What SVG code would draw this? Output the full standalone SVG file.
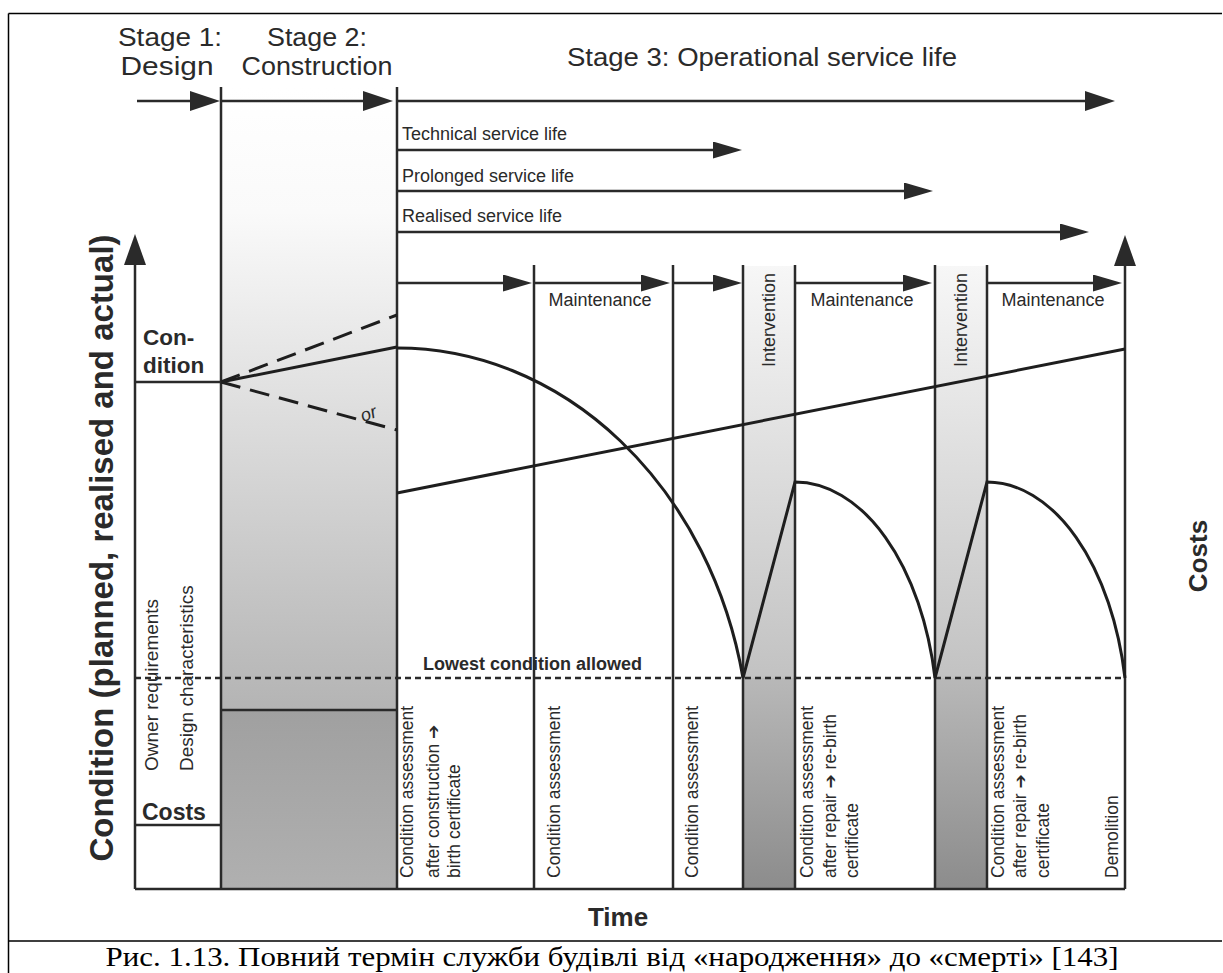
<svg xmlns="http://www.w3.org/2000/svg" width="1223" height="973" viewBox="0 0 1223 973">
<style>
.ln{stroke:#2a2a2a;stroke-width:2.5;fill:none}
.cv{stroke:#1e1e1e;stroke-width:3;fill:none}
.fr{stroke:#000;stroke-width:1.5;fill:none}
.t{font-family:"Liberation Sans",Arial,sans-serif;fill:#2a2a2a}
.st{font-size:26px}
.sm{font-size:18px}
.vt{font-size:17.5px}
.b{font-weight:bold}
.arr{font-family:"DejaVu Sans",sans-serif;font-size:17px;font-weight:bold}
.cap{font-family:"Liberation Serif","Times New Roman",serif;font-size:28px;fill:#000}
</style>
<defs>
<marker id="big" markerUnits="userSpaceOnUse" viewBox="0 0 30 20" markerWidth="30" markerHeight="20" refX="20" refY="10" orient="auto"><path d="M0,0 L30,10 L0,20 z" fill="#2a2a2a"/></marker>
<marker id="mid" markerUnits="userSpaceOnUse" viewBox="0 0 29 17" markerWidth="29" markerHeight="17" refX="19" refY="8.5" orient="auto"><path d="M0,0 L29,8.5 L0,17 z" fill="#2a2a2a"/></marker>
<marker id="ax" markerUnits="userSpaceOnUse" viewBox="0 0 31 22" markerWidth="31" markerHeight="22" refX="21" refY="11" orient="auto"><path d="M0,0 L31,11 L0,22 z" fill="#2a2a2a"/></marker>
<linearGradient id="gConTop" x1="0" y1="0" x2="0" y2="1"><stop offset="0" stop-color="#ffffff"/><stop offset="0.2" stop-color="#fafafa"/><stop offset="1" stop-color="#b4b4b4"/></linearGradient>
<linearGradient id="gConBot" x1="0" y1="0" x2="0" y2="1"><stop offset="0" stop-color="#a0a0a0"/><stop offset="1" stop-color="#b0b0b0"/></linearGradient>
<linearGradient id="gIntTop" x1="0" y1="0" x2="0" y2="1"><stop offset="0" stop-color="#f7f7f7"/><stop offset="1" stop-color="#c2c2c2"/></linearGradient>
<linearGradient id="gIntBot" x1="0" y1="0" x2="0" y2="1"><stop offset="0" stop-color="#b8b8b8"/><stop offset="1" stop-color="#8c8c8c"/></linearGradient>
</defs>
<rect width="1223" height="973" fill="#fff"/>
<g id="frame">
<path class="fr" d="M8.5,13.5 H1222 M8.5,13.5 V973 M8.5,941 H1222"/>
</g>
<g id="bands">
<rect x="221" y="88" width="176" height="622" fill="url(#gConTop)"/>
<rect x="221" y="710" width="176" height="179" fill="url(#gConBot)"/>
<rect x="743" y="266" width="52" height="412" fill="url(#gIntTop)"/>
<rect x="743" y="678" width="52" height="211" fill="url(#gIntBot)"/>
<rect x="935" y="266" width="52" height="412" fill="url(#gIntTop)"/>
<rect x="935" y="678" width="52" height="211" fill="url(#gIntBot)"/>
</g>
<g id="connectors">
<path class="ln" d="M137,101 H210" marker-end="url(#big)"/>
<path class="ln" d="M221,101 H383" marker-end="url(#big)"/>
<path class="ln" d="M397,101 H1105" marker-end="url(#big)"/>
<path class="ln" d="M221,87 V889 M397,87 V889"/>
<path class="ln" d="M397,150 H732" marker-end="url(#mid)"/>
<path class="ln" d="M397,191 H923" marker-end="url(#mid)"/>
<path class="ln" d="M397,232 H1079" marker-end="url(#mid)"/>
<path class="ln" d="M397,283 H522" marker-end="url(#mid)"/>
<path class="ln" d="M534,283 H660" marker-end="url(#mid)"/>
<path class="ln" d="M673,283 H732" marker-end="url(#mid)"/>
<path class="ln" d="M795,283 H922" marker-end="url(#mid)"/>
<path class="ln" d="M987,283 H1112" marker-end="url(#mid)"/>
<path class="ln" d="M534,265 V889 M673,265 V889 M743,265 V889 M795,265 V889 M935,265 V889 M987,265 V889"/>
<path class="ln" d="M135,889 V244" marker-end="url(#ax)"/>
<path class="ln" d="M1125,889 V245" marker-end="url(#ax)"/>
<path class="ln" d="M135,889 H1125"/>
<path class="ln" d="M135,382 H221 M135,825 H221 M221,710 H397"/>
<path class="ln" d="M135,678 H1125" stroke-dasharray="6 4"/>
<path class="cv" d="M221,382 L397,347"/>
<path class="cv" d="M221,382 L397,315 M221,382 L397,430" stroke-width="2.7" stroke-dasharray="20 10"/>
<path class="cv" d="M397,348 A353,412 0 0 1 743,678 L795,482 A143,245 0 0 1 935,678 L987,482 A141,245 0 0 1 1125,678"/>
<path class="cv" d="M397,493 L1125,349"/>
</g>
<g id="stages">
<text class="t st" x="170" y="46" text-anchor="middle" textLength="104" lengthAdjust="spacingAndGlyphs">Stage 1:</text>
<text class="t st" x="167" y="75" text-anchor="middle" textLength="93" lengthAdjust="spacingAndGlyphs">Design</text>
<text class="t st" x="317" y="46" text-anchor="middle" textLength="100" lengthAdjust="spacingAndGlyphs">Stage 2:</text>
<text class="t st" x="317" y="75" text-anchor="middle" textLength="151" lengthAdjust="spacingAndGlyphs">Construction</text>
<text class="t st" x="567" y="66" textLength="390" lengthAdjust="spacingAndGlyphs">Stage 3: Operational service life</text>
</g>
<g id="service-life">
<text class="t sm" x="402" y="140">Technical service life</text>
<text class="t sm" x="402" y="182">Prolonged service life</text>
<text class="t sm" x="402" y="222">Realised service life</text>
</g>
<g id="phases">
<text class="t sm" x="600" y="306" text-anchor="middle">Maintenance</text>
<text class="t sm" x="862" y="306" text-anchor="middle">Maintenance</text>
<text class="t sm" x="1053" y="306" text-anchor="middle">Maintenance</text>
<text class="t sm" transform="translate(775,320) rotate(-90)" text-anchor="middle">Intervention</text>
<text class="t sm" transform="translate(967,320) rotate(-90)" text-anchor="middle">Intervention</text>
</g>
<g id="axes-labels">
<text class="t b" font-size="33" transform="translate(113,548) rotate(-90)" text-anchor="middle">Condition (planned, realised and actual)</text>
<text class="t b" font-size="26" transform="translate(1207,556) rotate(-90)" text-anchor="middle">Costs</text>
<text class="t b" font-size="26" x="618" y="926" text-anchor="middle">Time</text>
<text class="t b" font-size="22.5" x="143" y="345">Con-</text>
<text class="t b" font-size="22.5" x="143" y="373">dition</text>
<text class="t b" font-size="23" x="142" y="820">Costs</text>
<text class="t b" font-size="18" x="423" y="670">Lowest condition allowed</text>
<text class="t" font-size="18" font-style="italic" transform="translate(363,422) rotate(-20)">or</text>
</g>
<g id="bottom-labels" class="t vt">
<text font-size="19" transform="translate(158,771) rotate(-90)">Owner requirements</text>
<text font-size="19" transform="translate(193,771) rotate(-90)">Design characteristics</text>
<text transform="translate(413,878) rotate(-90)">Condition assessment</text>
<text transform="translate(439,878) rotate(-90)">after construction <tspan class="arr">➔</tspan></text>
<text transform="translate(460,878) rotate(-90)">birth certificate</text>
<text transform="translate(560,878) rotate(-90)">Condition assessment</text>
<text transform="translate(698,878) rotate(-90)">Condition assessment</text>
<text transform="translate(813,878) rotate(-90)">Condition assessment</text>
<text transform="translate(836,878) rotate(-90)">after repair <tspan class="arr">➔</tspan> re-birth</text>
<text transform="translate(858,878) rotate(-90)">certificate</text>
<text transform="translate(1004,878) rotate(-90)">Condition assessment</text>
<text transform="translate(1026,878) rotate(-90)">after repair <tspan class="arr">➔</tspan> re-birth</text>
<text transform="translate(1049,878) rotate(-90)">certificate</text>
<text transform="translate(1118,878) rotate(-90)">Demolition</text>
</g>
<g id="caption">
<text class="cap" x="612" y="966" text-anchor="middle" textLength="1013" lengthAdjust="spacingAndGlyphs">Рис. 1.13. Повний термін служби будівлі від «народження» до «смерті» [143]</text>
</g>
</svg>
